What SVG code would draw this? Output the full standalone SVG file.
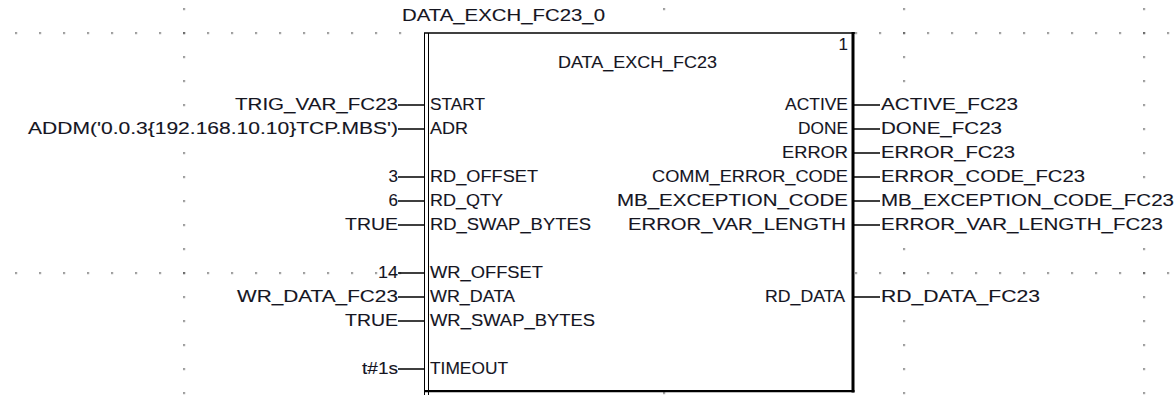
<svg xmlns="http://www.w3.org/2000/svg" width="1176" height="397" viewBox="0 0 1176 397">
<style>
text{font-family:"Liberation Sans",Arial,sans-serif;font-size:17px;fill:#15151f;stroke:#15151f;stroke-width:0.12}
.c{stroke:#000;stroke-width:1.3;fill:none}
.e{text-anchor:end}
</style>
<defs>
<pattern id="dots" patternUnits="userSpaceOnUse" x="15.3" y="8.3" width="24" height="24">
<rect x="0" y="0" width="1.5" height="1.5" fill="#333"/>
</pattern>
</defs>
<rect width="1176" height="397" fill="#fff"/>
<g id="grid" fill="url(#dots)">
<rect x="10" y="28" width="400" height="10"/>
<rect x="850" y="28" width="326" height="10"/>
<rect x="10" y="268" width="400" height="10"/>
<rect x="850" y="268" width="326" height="10"/>
<rect x="180" y="0" width="8" height="120"/>
<rect x="180" y="140" width="8" height="257"/>
<rect x="660" y="0" width="8" height="20"/>
<rect x="660" y="385" width="8" height="12"/>
<rect x="900" y="0" width="8" height="95"/>
<rect x="900" y="240" width="8" height="40"/>
<rect x="900" y="310" width="8" height="87"/>
<rect x="1140" y="0" width="8" height="190"/>
<rect x="1140" y="240" width="8" height="157"/>
</g>
<g id="connectors" class="c">
<path d="M398 105H424M398 129H424M398 177H424M398 201H424M398 225H424M398 273H424M398 297H424M398 321H424M398 369H424"/>
<path d="M854 105H880M854 129H880M854 153H880M854 177H880M854 201H880M854 225H880M854 297H880"/>
</g>
<g id="fb">
<rect x="424" y="33" width="429" height="358" fill="#fff"/>
<path d="M424 33H855" stroke="#000" stroke-width="1.5"/>
<path d="M424.5 33V395M428.5 33V395" stroke="#000" stroke-width="1"/>
<path d="M853 32V392.5" stroke="#000" stroke-width="3"/>
<path d="M424 391.2H854.5" stroke="#000" stroke-width="2.2"/>
<text x="402" y="21" textLength="203" lengthAdjust="spacingAndGlyphs">DATA_EXCH_FC23_0</text>
<text x="558" y="68" textLength="159" lengthAdjust="spacingAndGlyphs">DATA_EXCH_FC23</text>
<text x="848" y="50" class="e">1</text>
<text x="430" y="110" textLength="55" lengthAdjust="spacingAndGlyphs">START</text>
<text x="430" y="134" textLength="38" lengthAdjust="spacingAndGlyphs">ADR</text>
<text x="430" y="182" textLength="108" lengthAdjust="spacingAndGlyphs">RD_OFFSET</text>
<text x="430" y="206" textLength="73" lengthAdjust="spacingAndGlyphs">RD_QTY</text>
<text x="430" y="230" textLength="161" lengthAdjust="spacingAndGlyphs">RD_SWAP_BYTES</text>
<text x="430" y="278" textLength="113" lengthAdjust="spacingAndGlyphs">WR_OFFSET</text>
<text x="430" y="302" textLength="85" lengthAdjust="spacingAndGlyphs">WR_DATA</text>
<text x="430" y="326" textLength="165" lengthAdjust="spacingAndGlyphs">WR_SWAP_BYTES</text>
<text x="430" y="374" textLength="78" lengthAdjust="spacingAndGlyphs">TIMEOUT</text>
<text x="785" y="110" textLength="63" lengthAdjust="spacingAndGlyphs">ACTIVE</text>
<text x="798" y="134" textLength="50" lengthAdjust="spacingAndGlyphs">DONE</text>
<text x="782" y="158" textLength="66" lengthAdjust="spacingAndGlyphs">ERROR</text>
<text x="652" y="182" textLength="196" lengthAdjust="spacingAndGlyphs">COMM_ERROR_CODE</text>
<text x="617" y="206" textLength="231" lengthAdjust="spacingAndGlyphs">MB_EXCEPTION_CODE</text>
<text x="628" y="230" textLength="218" lengthAdjust="spacingAndGlyphs">ERROR_VAR_LENGTH</text>
<text x="765" y="302" textLength="80" lengthAdjust="spacingAndGlyphs">RD_DATA</text>
</g>
<g id="in_start"><text x="235" y="110" textLength="163" lengthAdjust="spacingAndGlyphs">TRIG_VAR_FC23</text></g>
<g id="in_adr"><text x="28" y="134" textLength="370" lengthAdjust="spacingAndGlyphs">ADDM('0.0.3{192.168.10.10}TCP.MBS')</text></g>
<g id="in_rd_offset"><text x="398" y="182" class="e">3</text></g>
<g id="in_rd_qty"><text x="398" y="206" class="e">6</text></g>
<g id="in_rd_swap"><text x="345" y="230" textLength="53" lengthAdjust="spacingAndGlyphs">TRUE</text></g>
<g id="in_wr_offset"><text x="378" y="278" textLength="20" lengthAdjust="spacingAndGlyphs">14</text></g>
<g id="in_wr_data"><text x="237" y="302" textLength="161" lengthAdjust="spacingAndGlyphs">WR_DATA_FC23</text></g>
<g id="in_wr_swap"><text x="345" y="326" textLength="53" lengthAdjust="spacingAndGlyphs">TRUE</text></g>
<g id="in_timeout"><text x="362" y="374" textLength="36" lengthAdjust="spacingAndGlyphs">t#1s</text></g>
<g id="out_active"><text x="881" y="110" textLength="137" lengthAdjust="spacingAndGlyphs">ACTIVE_FC23</text></g>
<g id="out_done"><text x="881" y="134" textLength="121" lengthAdjust="spacingAndGlyphs">DONE_FC23</text></g>
<g id="out_error"><text x="881" y="158" textLength="134" lengthAdjust="spacingAndGlyphs">ERROR_FC23</text></g>
<g id="out_comm"><text x="881" y="182" textLength="204" lengthAdjust="spacingAndGlyphs">ERROR_CODE_FC23</text></g>
<g id="out_mb"><text x="881" y="206" textLength="293" lengthAdjust="spacingAndGlyphs">MB_EXCEPTION_CODE_FC23</text></g>
<g id="out_len"><text x="881" y="230" textLength="282" lengthAdjust="spacingAndGlyphs">ERROR_VAR_LENGTH_FC23</text></g>
<g id="out_rd_data"><text x="881" y="302" textLength="159" lengthAdjust="spacingAndGlyphs">RD_DATA_FC23</text></g>
</svg>
